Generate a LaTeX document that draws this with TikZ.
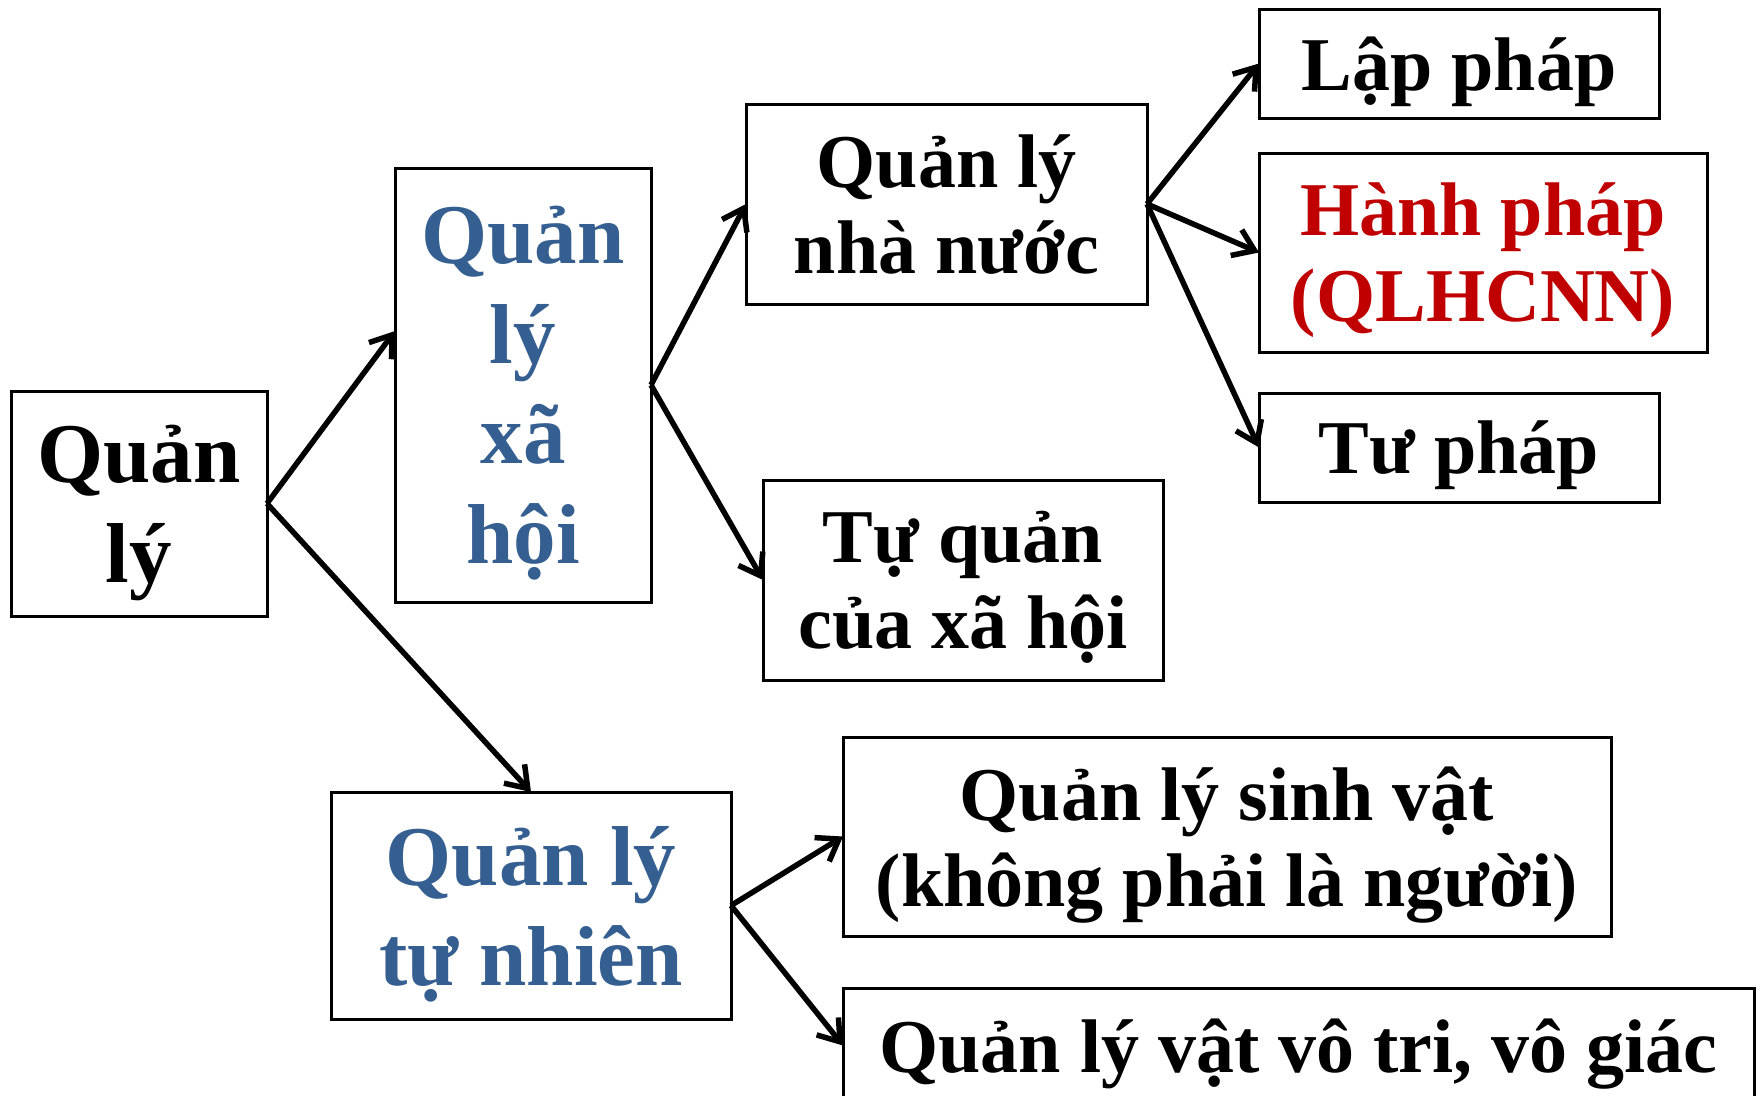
\documentclass[tikz,border=0pt]{standalone}
\usepackage{fontspec}
\setmainfont{Liberation Serif}
\usepackage{xcolor}
\definecolor{qlblue}{HTML}{365F91}
\definecolor{qlred}{HTML}{C00000}
\usepackage{tikz}
\usetikzlibrary{positioning}
\usetikzlibrary{arrows.meta}
\newcommand{\bigsize}{\fontsize{85}{100}\selectfont}
\newcommand{\midsize}{\fontsize{76}{86}\selectfont}
\begin{document}
\begin{tikzpicture}[x=1pt,y=-1pt,
	every node/.style={inner sep=0,outer sep=0,align=center,text depth=-12pt,font=\bfseries\midsize},
	box/.style={draw,line width=3pt},
	link/.style={line width=5.5pt,-{Straight Barb[length=20pt,width=28pt,line width=5.5pt]}}]
	\useasboundingbox (0,0) rectangle (1760,1095);
	\node (QL) [box,minimum width=256pt,minimum height=225pt,font=\bfseries\bigsize] at (139,503.5) {Quản\\lý};
	\node (QLXH) [box,minimum width=256pt,minimum height=434pt,font=\bfseries\bigsize,text=qlblue] at (523,385) {Quản\\lý\\xã\\hội};
	\node (QLTN) [box,minimum width=400pt,minimum height=227pt,font=\bfseries\bigsize,text=qlblue] at (531,905.5) {Quản lý\\tự nhiên};
	\node (QLNN) [box,minimum width=401pt,minimum height=200pt] at (946.5,204) {Quản lý\\nhà nước};
	\node (TQ) [box,minimum width=400pt,minimum height=200pt] at (963,580) {Tự quản\\của xã hội};
	\node (LP) [box,minimum width=400pt,minimum height=109pt] at (1459,63.5) {Lập pháp};
	\node (HP) [box,minimum width=448pt,minimum height=199pt,text=qlred] at (1483,252.5) {Hành pháp\\(QLHCNN)};
	\node (TP) [box,minimum width=400pt,minimum height=109pt] at (1459,447.5) {Tư pháp};
	\node (SV) [box,minimum width=768pt,minimum height=199pt] at (1227,836.5) {Quản lý sinh vật\\(không phải là người)};
	\node (VT) [box,minimum width=911pt,minimum height=115pt] at (1298.5,1045.5) {Quản lý vật vô tri, vô giác};
	\path[link]
		(QL.east) edge ([yshift=54pt]QLXH.west)
		(QL.east) edge (QLTN.north)
		(QLXH.east) edge (QLNN.west)
		(QLXH.east) edge (TQ.west)
		(QLNN.east) edge (LP.west)
		(QLNN.east) edge (HP.west)
		(QLNN.east) edge (TP.west)
		(QLTN.east) edge (SV.west)
		(QLTN.east) edge (VT.west);
\end{tikzpicture}
\end{document}
